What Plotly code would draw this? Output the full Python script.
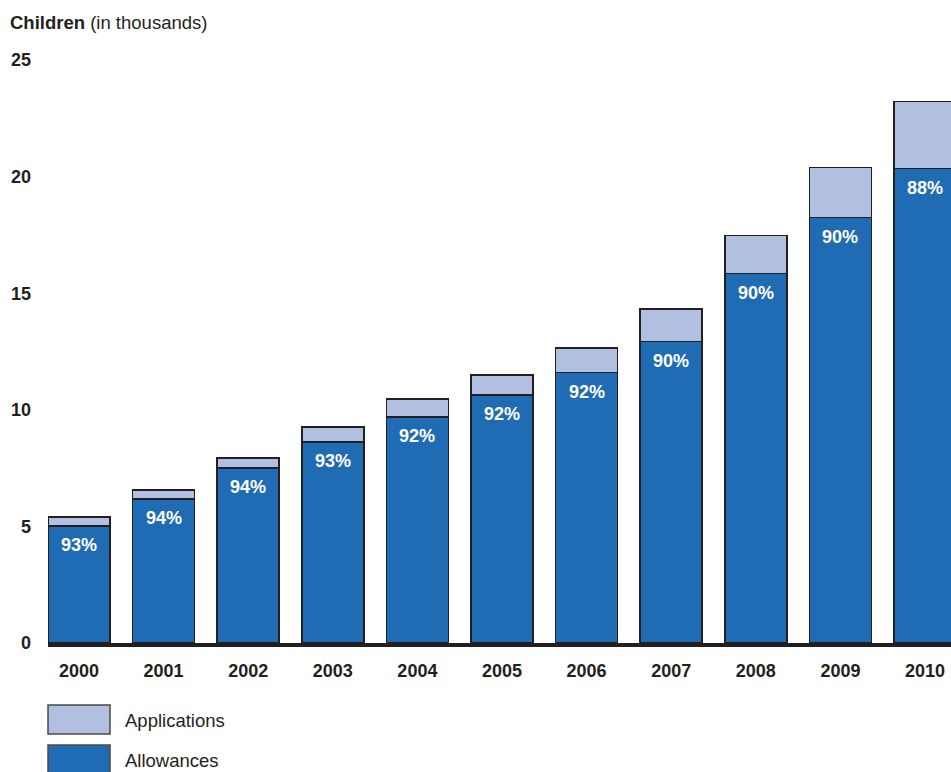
import plotly.graph_objects as go

years = [2000, 2001, 2002, 2003, 2004, 2005, 2006, 2007, 2008, 2009, 2010]
allowances = [5.02, 6.18, 7.51, 8.63, 9.70, 10.64, 11.59, 12.92, 15.84, 18.24, 20.34]
applications = [5.41, 6.57, 7.94, 9.27, 10.47, 11.50, 12.66, 14.33, 17.47, 20.39, 23.22]
pct_labels = ["93%", "94%", "94%", "93%", "92%", "92%", "92%", "90%", "90%", "90%", "88%"]

dark_blue = "#1f6bb4"
light_blue = "#b1bfe0"
edge = "#231f20"
font_name = "Liberation Sans, Arial, sans-serif"

# applications sit on top of allowances, so the light part is the difference
extra = [a - b for a, b in zip(applications, allowances)]

fig = go.Figure()
fig.add_trace(go.Bar(x=years, y=allowances, name="Allowances", width=0.732,
                     marker=dict(color=dark_blue, line=dict(color=edge, width=1.5))))
fig.add_trace(go.Bar(x=years, y=extra, name="Applications", width=0.732,
                     marker=dict(color=light_blue, line=dict(color=edge, width=1.5))))

for yr, val, lab in zip(years, allowances, pct_labels):
    fig.add_annotation(x=yr, y=val, text="<b>%s</b>" % lab, showarrow=False,
                       yanchor="top", yshift=-7,
                       font=dict(family=font_name, size=18, color="white"))

fig.add_annotation(xref="paper", yref="paper", x=-0.0445, y=1.0, yshift=38,
                   xanchor="left", yanchor="middle", showarrow=False,
                   text="<b>Children</b> (in thousands)",
                   font=dict(family=font_name, size=18.5, color="#231f20"))

# hand drawn legend with large swatches (pixel rows converted to paper units)
legend_items = [("Applications", light_blue), ("Allowances", dark_blue)]
for i, (name, col) in enumerate(legend_items):
    top = 705 + i * 40
    fig.add_shape(type="rect", xref="paper", yref="paper",
                  x0=0, x1=62 / 903, y0=(643 - top - 29) / 583, y1=(643 - top) / 583,
                  fillcolor=col, line=dict(color="#4a4a4a", width=1.5))
    fig.add_annotation(xref="paper", yref="paper", x=75 / 903,
                       y=(643 - top - 15) / 583, xanchor="left", yanchor="middle",
                       showarrow=False, text=name,
                       font=dict(family=font_name, size=18.5, color="#231f20"))

fig.update_layout(
    barmode="stack",
    width=951, height=772,
    margin=dict(l=48, r=0, t=60, b=129),
    plot_bgcolor="white", paper_bgcolor="white",
    showlegend=False,
    font=dict(family=font_name, size=18, color="#231f20"),
)
fig.update_xaxes(range=[1999.634, 2010.307], tickvals=years,
                 ticktext=["<b>%d</b>" % y for y in years],
                 showline=True, linecolor=edge, linewidth=4,
                 showgrid=False, zeroline=False, ticklabelstandoff=8,
                 tickfont=dict(family=font_name, size=18, color="#231f20"))
fig.update_yaxes(range=[0, 25], tickvals=[0, 5, 10, 15, 20, 25],
                 ticktext=["<b>%d</b>" % v for v in [0, 5, 10, 15, 20, 25]],
                 showgrid=False, zeroline=False, showline=False,
                 ticklabelstandoff=16,
                 tickfont=dict(family=font_name, size=18, color="#231f20"))

fig.write_html("out.html", config={"displayModeBar": False},
               post_script="document.body.style.margin='0';")
